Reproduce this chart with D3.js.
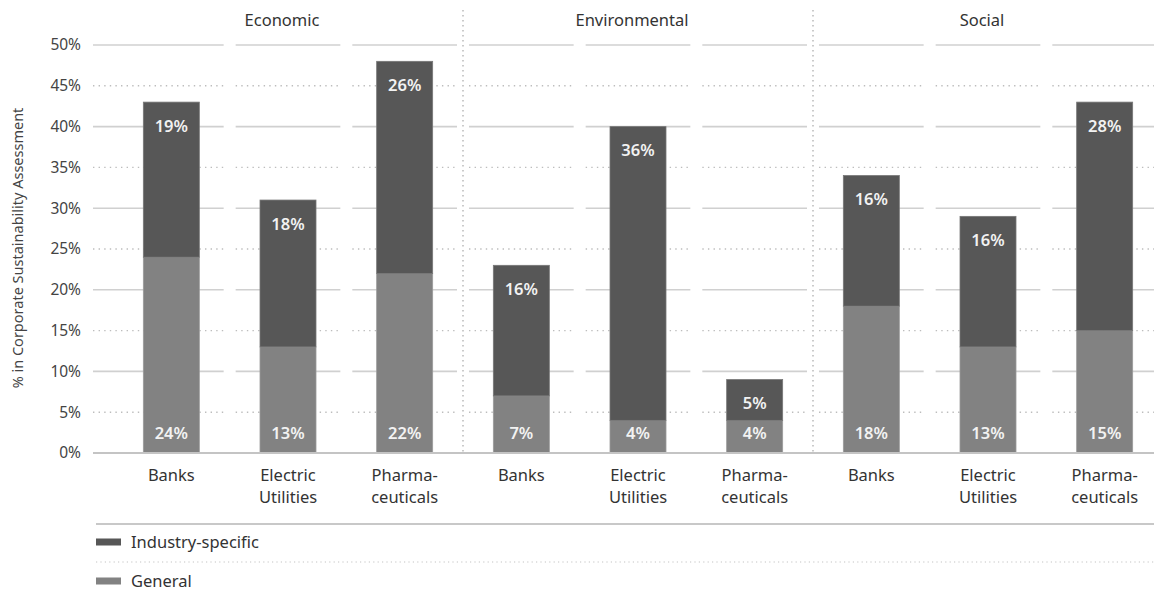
<!DOCTYPE html>
<html>
<head>
<meta charset="utf-8">
<script src="https://cdn.jsdelivr.net/npm/d3@7"></script>
<style>
  body { margin: 0; background: #fff; }
  text { font-family: "Noto Sans", sans-serif; }
</style>
</head>
<body>
<div id="chart"></div>
<script>
// data
const groups = ["Economic", "Environmental", "Social"];
const industries = ["Banks", "Electric Utilities", "Pharmaceuticals"];
const industryLines = [["Banks"], ["Electric", "Utilities"], ["Pharma-", "ceuticals"]];
const general = [24, 13, 22, 7, 4, 4, 18, 13, 15];
const specific = [19, 18, 26, 16, 36, 5, 16, 16, 28];
const yTicks = [0, 5, 10, 15, 20, 25, 30, 35, 40, 45, 50];
const seriesNames = ["Industry-specific", "General"];
const colors = { specific: "#575757", general: "#828282" };

const width = 1154, height = 592;
const svg = d3.select("#chart").append("svg")
  .attr("width", width)
  .attr("height", height);

const y = d3.scaleLinear().domain([0, 50]).range([453, 45]);
const xg = d3.scaleBand().domain(groups).range([113, 1163]);
const xi = d3.scaleBand().domain(industries).range([0, xg.bandwidth()]);

const rows = [];
groups.forEach((g, gi) => {
  industries.forEach((ind, ii) => {
    const k = gi * 3 + ii;
    rows.push({ group: g, ind: ind, lines: industryLines[ii], general: general[k], specific: specific[k],
      x0: xg(g) + xi(ind) });
  });
});

// gridlines, one segment per column
const grid = svg.append("g");
rows.forEach((r, i) => {
  const x1 = i === 0 ? 93 : r.x0 + 6;
  const x2 = r.x0 + xi.bandwidth() - 6;
  yTicks.filter(t => t > 0).forEach(t => {
    grid.append("line")
      .attr("x1", x1).attr("x2", x2)
      .attr("y1", y(t)).attr("y2", y(t))
      .attr("stroke", t % 10 === 0 ? "#d0d0d0" : "#bdbdbd")
      .attr("stroke-width", t % 10 === 0 ? 1.6 : 1.4)
      .attr("stroke-dasharray", t % 10 === 0 ? null : "1.4,4.2");
  });
});

// group dividers
groups.slice(1).forEach(g => {
  svg.append("line")
    .attr("x1", xg(g)).attr("x2", xg(g))
    .attr("y1", 10).attr("y2", 453)
    .attr("stroke", "#b5b5b5")
    .attr("stroke-width", 1.4)
    .attr("stroke-dasharray", "1.4,3.6");
});

// group titles
svg.append("g").selectAll("text")
  .data(groups)
  .join("text")
  .attr("x", d => xg(d) + xg.bandwidth() / 2 - 6)
  .attr("y", 26)
  .attr("text-anchor", "middle")
  .attr("font-size", 16.5)
  .attr("fill", "#333")
  .text(d => d);

// y axis labels
svg.append("g").selectAll("text")
  .data(yTicks)
  .join("text")
  .attr("x", 81)
  .attr("y", d => y(d))
  .attr("dy", "0.35em")
  .attr("text-anchor", "end")
  .attr("font-size", 15.5)
  .attr("fill", "#444")
  .text(d => d + "%");

svg.append("text")
  .attr("transform", "translate(23,248) rotate(-90)")
  .attr("text-anchor", "middle")
  .attr("font-size", 14.5)
  .attr("fill", "#444")
  .text("% in Corporate Sustainability Assessment");

// bars
const barW = 56;
const bars = svg.append("g");
rows.forEach(r => {
  const cx = r.x0 + xi.bandwidth() / 2;
  bars.append("rect")
    .attr("x", cx - barW / 2).attr("width", barW)
    .attr("y", y(r.general)).attr("height", y(0) - y(r.general))
    .attr("fill", colors.general)
    .attr("stroke", "#9a9a9a").attr("stroke-width", 0.8);
  bars.append("rect")
    .attr("x", cx - barW / 2).attr("width", barW)
    .attr("y", y(r.general + r.specific)).attr("height", y(r.general) - y(r.general + r.specific))
    .attr("fill", colors.specific)
    .attr("stroke", "#777").attr("stroke-width", 0.8);
  bars.append("text")
    .attr("x", cx).attr("y", y(r.general + r.specific) + 24)
    .attr("dy", "0.35em")
    .attr("text-anchor", "middle")
    .attr("font-size", 16.5).attr("font-weight", 600)
    .attr("fill", "#f2f2f2")
    .text(r.specific + "%");
  bars.append("text")
    .attr("x", cx).attr("y", 433)
    .attr("dy", "0.35em")
    .attr("text-anchor", "middle")
    .attr("font-size", 16.5).attr("font-weight", 600)
    .attr("fill", "#f2f2f2")
    .text(r.general + "%");
  const t = svg.append("text")
    .attr("x", cx)
    .attr("y", 481)
    .attr("text-anchor", "middle")
    .attr("font-size", 16.5)
    .attr("fill", "#333");
  r.lines.forEach((l, i) => {
    t.append("tspan").attr("x", cx).attr("dy", i === 0 ? 0 : 22).text(l);
  });
});

// baseline
svg.append("line")
  .attr("x1", 93).attr("x2", width)
  .attr("y1", y(0)).attr("y2", y(0))
  .attr("stroke", "#c4c4c4").attr("stroke-width", 2);

// legend
svg.append("line")
  .attr("x1", 96).attr("x2", width)
  .attr("y1", 524).attr("y2", 524)
  .attr("stroke", "#c8c8c8").attr("stroke-width", 2);
svg.append("line")
  .attr("x1", 96).attr("x2", width)
  .attr("y1", 562).attr("y2", 562)
  .attr("stroke", "#c4c4c4").attr("stroke-width", 1.2)
  .attr("stroke-dasharray", "1.2,3.2");
const legend = svg.append("g");
seriesNames.forEach((s, i) => {
  const ly = 542 + i * 39;
  legend.append("rect")
    .attr("x", 96).attr("y", ly - 3.5)
    .attr("width", 25).attr("height", 7)
    .attr("fill", i === 0 ? colors.specific : colors.general);
  legend.append("text")
    .attr("x", 131).attr("y", ly)
    .attr("dy", "0.35em")
    .attr("font-size", 16.5)
    .attr("fill", "#333")
    .text(s);
});
</script>
</body>
</html>
